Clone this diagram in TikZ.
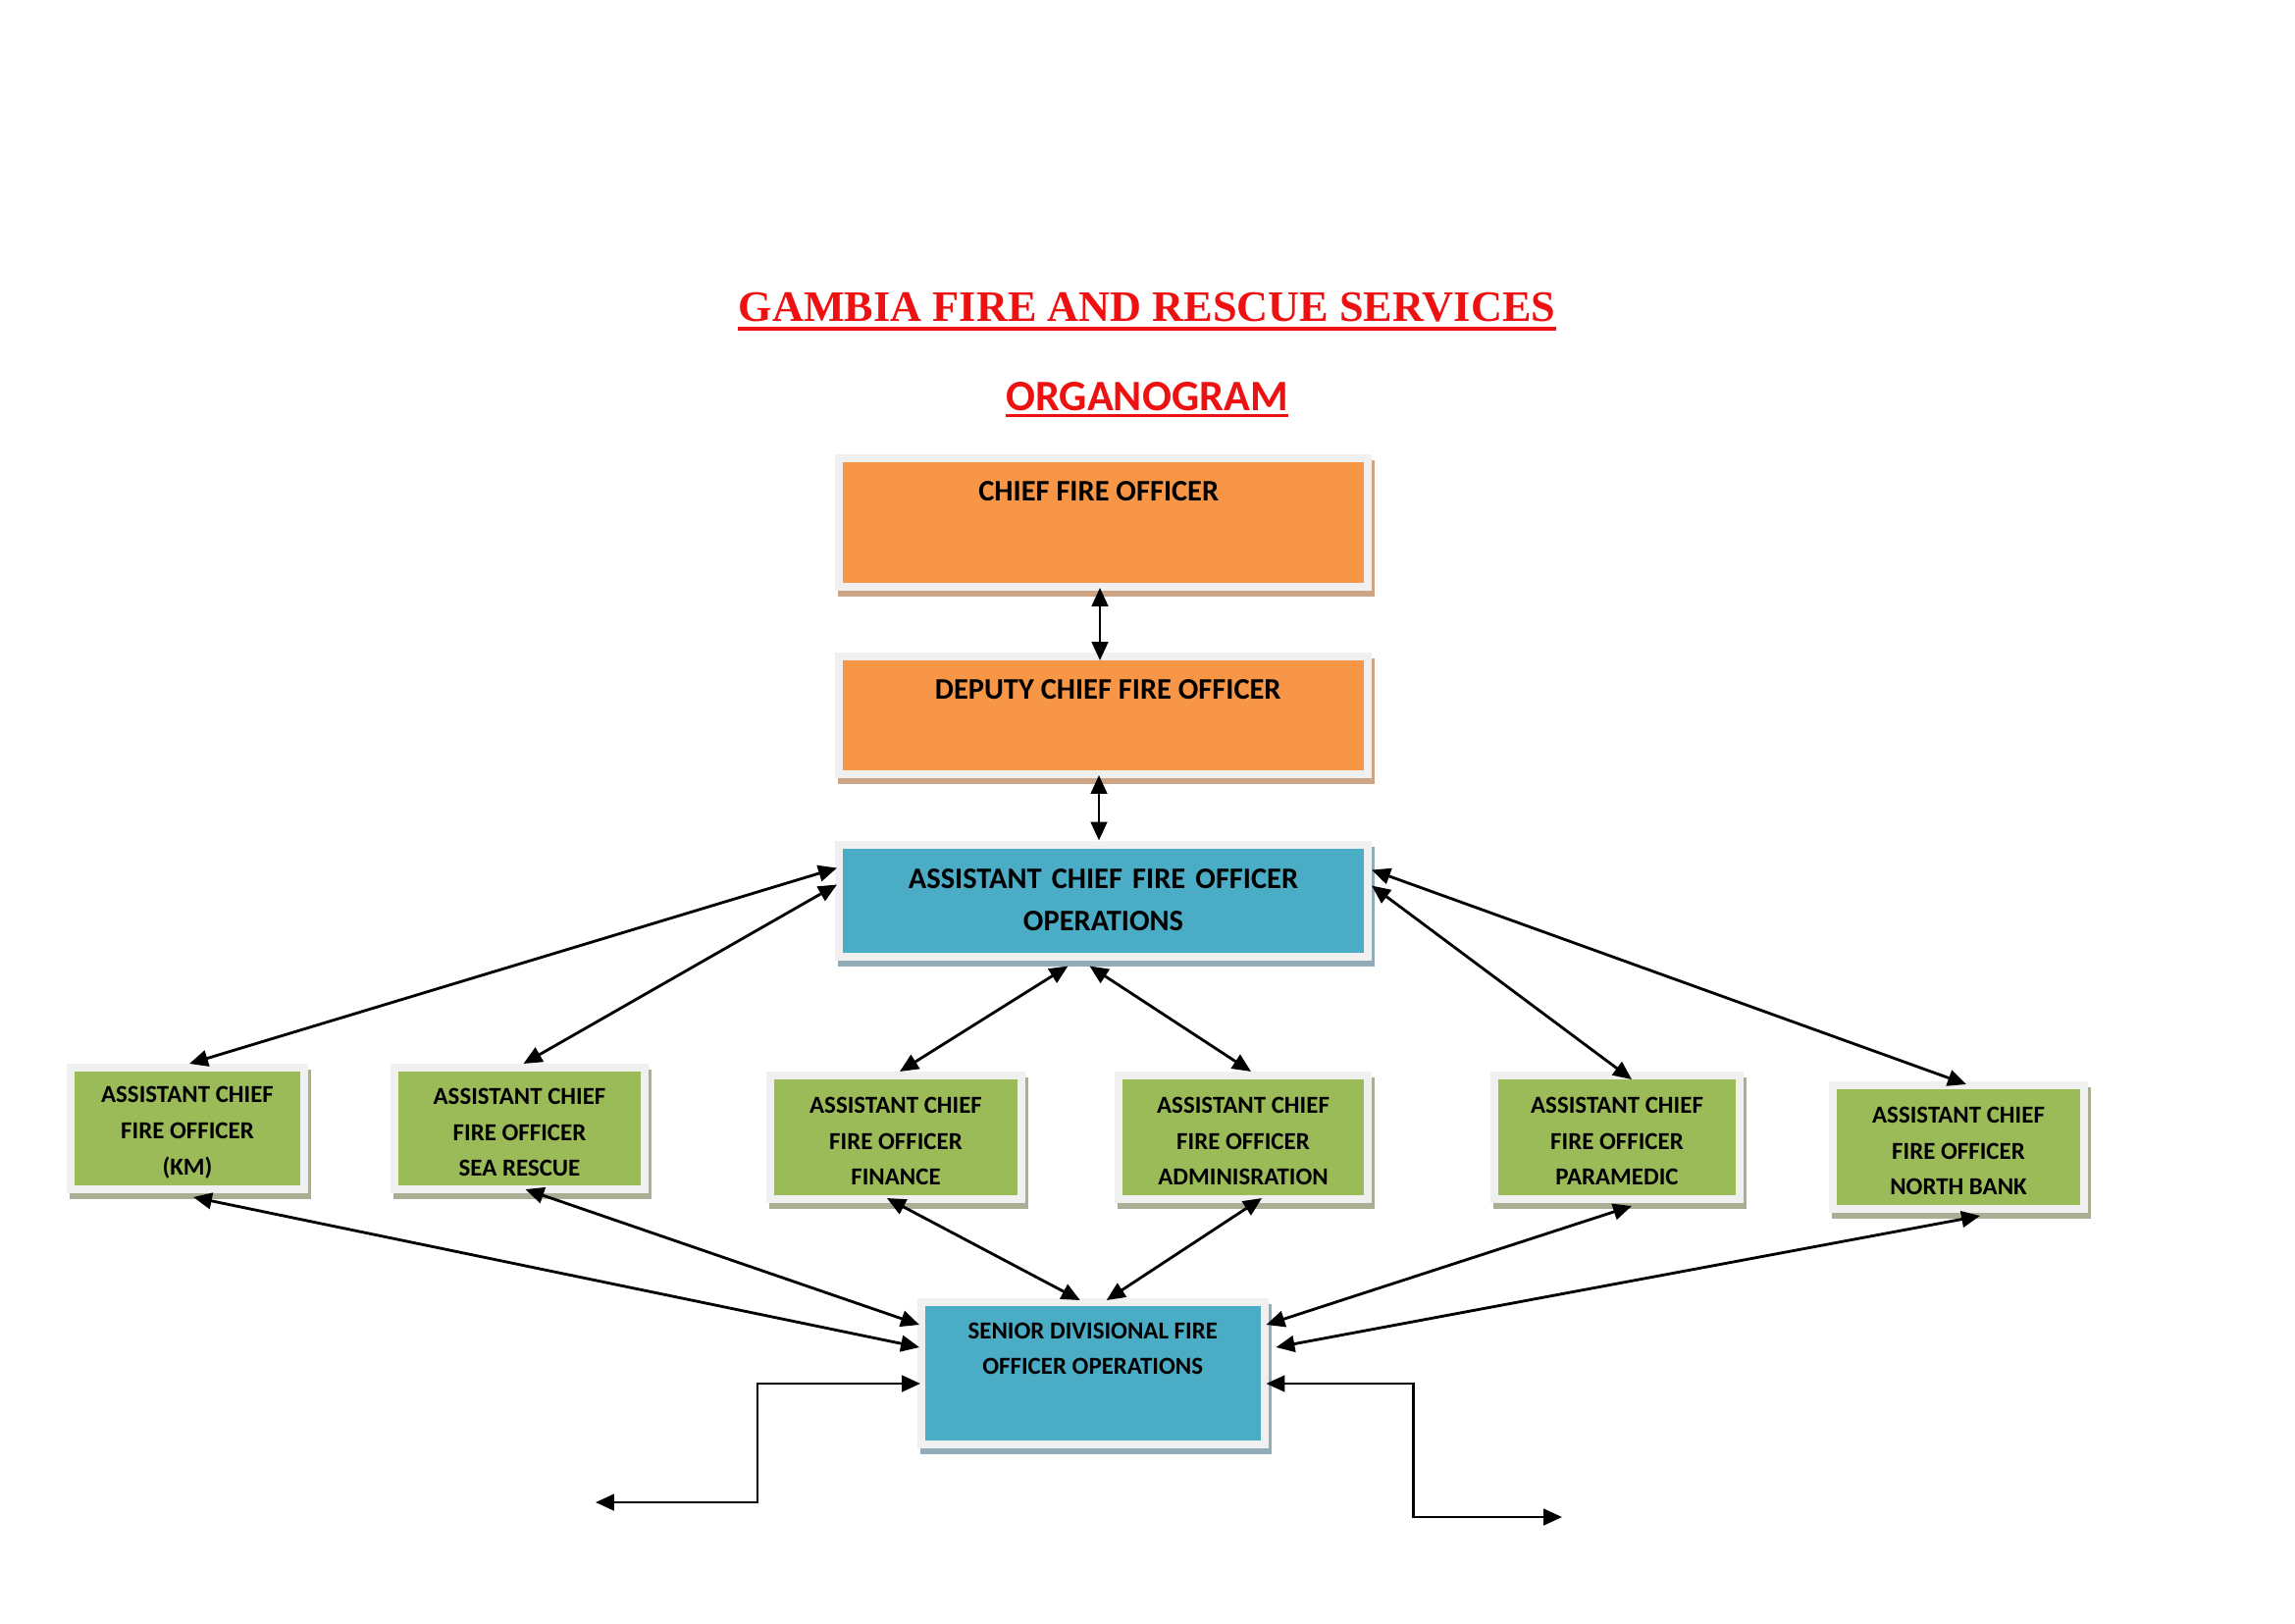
\documentclass[tikz,border=0pt]{standalone}
\usepackage{fontspec}
\setmainfont{Carlito}
\newfontfamily\titlefont{Liberation Serif}
\usetikzlibrary{arrows.meta,calc}
\definecolor{orfill}{HTML}{F79646}
\definecolor{orshadow}{HTML}{CBA586}
\definecolor{blfill}{HTML}{4BACC6}
\definecolor{blshadow}{HTML}{92ABB8}
\definecolor{grfill}{HTML}{9BBB59}
\definecolor{grshadow}{HTML}{A8AF95}
\definecolor{framecol}{HTML}{F0F0F0}
\definecolor{titlered}{HTML}{EE1111}
\newcommand{\gtxt}[3]{\parbox[c][#2][c]{#1}{\centering\fontsize{9}{13.3}\selectfont\bfseries\vspace*{1.0mm}#3}}
\tikzset{
  orgbox/.style 2 args={inner sep=0pt, outer sep=1.016mm, fill=#1,
    preaction={draw=#2, fill=#2, line width=2.03mm, transform canvas={shift={(3,6)}}},
    preaction={draw=framecol, line width=2.03mm}},
  bigfont/.style={font=\fontsize{11}{15.5}\selectfont\bfseries},
  greenbox/.style={orgbox={grfill}{grshadow}},
  conn/.style={line width=0.36mm, {Triangle[length=2.4mm,width=2.1mm]}-{Triangle[length=2.4mm,width=2.1mm]}},
}
\begin{document}
\begin{tikzpicture}[x=0.127mm, y=-0.127mm]
\path[use as bounding box, fill=white] (0,0) rectangle (2339,1654);

% titles
\node[anchor=base, inner sep=0pt, text=titlered, font=\titlefont\bfseries\fontsize{16}{19}\selectfont] (title) at (1169,327) {GAMBIA FIRE AND RESCUE SERVICES};
\draw[titlered, line width=0.5mm] ($(title.base west)+(0,8)$) -- ($(title.base east)+(0,8)$);
\node[anchor=base, inner sep=0pt, text=titlered, font=\fontsize{16}{19}\selectfont\bfseries] (subtitle) at (1169,418) {ORGANOGRAM};
\draw[titlered, line width=0.45mm] ($(subtitle.base west)+(0,5.5)$) -- ($(subtitle.base east)+(0,5.5)$);

% top boxes
\node[orgbox={orfill}{orshadow}, bigfont] (chief) at (1124.5,532.5)
  {\parbox[c][15.62mm][t]{67.44mm}{\centering\vspace*{2.45mm}\hspace*{-1.2mm}CHIEF FIRE OFFICER}};
\node[orgbox={orfill}{orshadow}, bigfont] (deputy) at (1124.5,729)
  {\parbox[c][14.22mm][t]{67.44mm}{\centering\vspace*{2.45mm}\hspace*{1.2mm}DEPUTY CHIEF FIRE OFFICER}};
\node[orgbox={blfill}{blshadow}, bigfont, align=center, text width=67.44mm, minimum height=13.46mm] (ops) at (1124.5,917.5)
  {ASSISTANT CHIEF FIRE OFFICER\\OPERATIONS};

% green boxes
\node[greenbox] (km) at (191,1150) {\gtxt{29.2mm}{14.73mm}{ASSISTANT CHIEF\\FIRE OFFICER\\(KM)}};
\node[greenbox] (sea) at (529.5,1150) {\gtxt{31.37mm}{14.73mm}{ASSISTANT CHIEF\\FIRE OFFICER\\SEA RESCUE}};
\node[greenbox] (fin) at (913,1159) {\gtxt{31.5mm}{14.99mm}{ASSISTANT CHIEF\\FIRE OFFICER\\FINANCE}};
\node[greenbox] (adm) at (1267,1159) {\gtxt{31.24mm}{14.99mm}{ASSISTANT CHIEF\\FIRE OFFICER\\ADMINISRATION}};
\node[greenbox] (para) at (1648,1159) {\gtxt{30.73mm}{14.99mm}{ASSISTANT CHIEF\\FIRE OFFICER\\PARAMEDIC}};
\node[greenbox] (nb) at (1996,1169) {\gtxt{31.5mm}{14.99mm}{ASSISTANT CHIEF\\FIRE OFFICER\\NORTH BANK}};

% senior divisional
\node[orgbox={blfill}{blshadow}] (sdfo) at (1113.75,1399.5)
  {\parbox[c][17.4mm][t]{43.37mm}{\fontsize{9}{13.2}\selectfont\bfseries\centering\vspace*{2.15mm}SENIOR DIVISIONAL FIRE\\OFFICER OPERATIONS}};

% connectors
\draw[conn] ($(chief.south)+(-3.5,-3)$) -- ($(deputy.north)+(-3.5,8)$);
\draw[conn] ($(deputy.south)+(-4.5,-3)$) -- ($(ops.north)+(-4.5,0)$);

\draw[conn] ($(ops.north west)+(2,28)$) -- ($(km.north)+(2,0)$);
\draw[conn] ($(ops.north west)+(2,45)$) -- ($(sea.north)+(4,0)$);
\draw[conn] ($(ops.south)+(-36,6)$) -- ($(fin.north)+(4,0)$);
\draw[conn] ($(ops.south)+(-14,6)$) -- ($(adm.north)+(8,0)$);
\draw[conn] ($(ops.north east)+(0,46)$) -- ($(para.north)+(15,8)$);
\draw[conn] ($(ops.north east)+(0,30)$) -- ($(nb.north)+(8,3)$);

\draw[conn] ($(km.south)+(6,4)$) -- ($(sdfo.north west)+(2,50)$);
\draw[conn] ($(sea.south)+(6,-4)$) -- ($(sdfo.north west)+(2,27)$);
\draw[conn] ($(fin.south)+(-9,-5)$) -- ($(sdfo.north)+(-13,2)$);
\draw[conn] ($(adm.south)+(19,-5)$) -- ($(sdfo.north)+(14,2)$);
\draw[conn] ($(para.south)+(15,3)$) -- ($(sdfo.north east)+(-2,27)$);
\draw[conn] ($(nb.south)+(22,3)$) -- ($(sdfo.north east)+(8,50)$);

\coordinate (lfree) at (607,1531);
\coordinate (rfree) at (1592,1546);
\draw[conn] (lfree) -- ++(165,0) |- ($(sdfo.north west)+(3,87)$);
\draw[conn] ($(sdfo.north east)+(-2,87)$) -- ++(150,0) |- (rfree);
\end{tikzpicture}
\end{document}
